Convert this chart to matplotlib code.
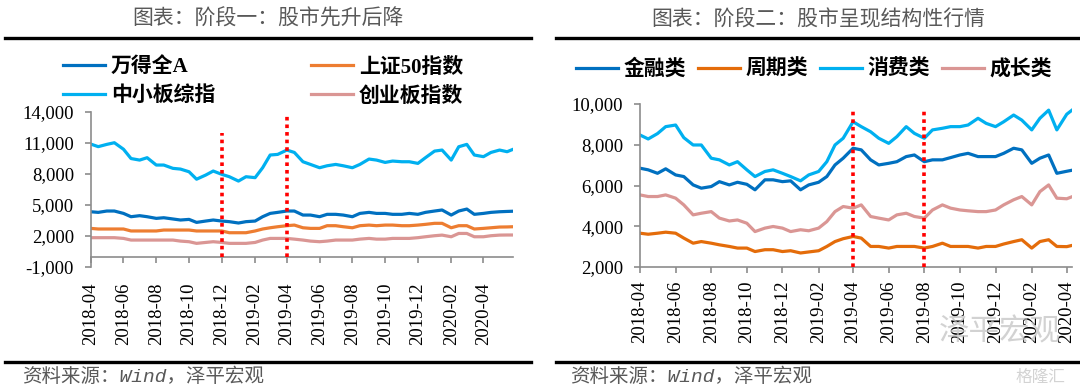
import numpy as np
import pandas as pd
import matplotlib
matplotlib.use("Agg")
import matplotlib.pyplot as plt
import matplotlib.dates as mdates
from matplotlib.lines import Line2D
from matplotlib.ticker import FuncFormatter

plt.rcParams['font.family'] = ['Liberation Serif', 'Noto Sans CJK SC']

# --- 左图：阶段一 ---
dates_left = list(pd.date_range('2018-04-01', '2020-05-15', freq='SMS')) + [pd.Timestamp('2020-05-26')]
zxb = [10900, 10650, 10870, 11030, 10400, 9500, 9350, 9580, 8870, 8870, 8550, 8480, 8220,
       7500, 7900, 8290, 7970, 7740, 7320, 7740, 7650, 8610, 9840, 9900, 10320,
       10090, 9190, 8930, 8610, 8800, 8930, 8800, 8610, 8930, 9450, 9350, 9125, 9255,
       9190, 9190, 9030, 9580, 10220, 10320, 9350, 10640, 10870, 9840, 9680, 10090, 10320, 10160, 10390]
wdqa = [4350, 4290, 4420, 4420, 4190, 3870, 3970, 3870, 3710, 3770, 3650, 3550, 3610,
        3320, 3450, 3550, 3450, 3390, 3260, 3390, 3450, 3870, 4190, 4290, 4420,
        4420, 4030, 4030, 3870, 4100, 4100, 4030, 3870, 4190, 4290, 4190, 4190, 4100,
        4100, 4190, 4100, 4290, 4420, 4520, 4030, 4420, 4610, 4100, 4190, 4290, 4350, 4380, 4400]
sz50 = [2740, 2680, 2680, 2680, 2680, 2490, 2490, 2490, 2490, 2580, 2580, 2580, 2580,
        2490, 2490, 2490, 2490, 2320, 2320, 2320, 2490, 2680, 2800, 2900, 3000,
        3060, 2800, 2740, 2740, 3000, 3000, 2900, 2800, 3000, 3060, 3000, 3060, 3060,
        3000, 3000, 3060, 3130, 3230, 3230, 2800, 3000, 3000, 2680, 2740, 2800, 2870, 2880, 2900]
cyb = [1840, 1840, 1840, 1840, 1770, 1610, 1610, 1610, 1610, 1610, 1610, 1510, 1450,
       1290, 1380, 1450, 1380, 1290, 1290, 1290, 1380, 1610, 1770, 1770, 1770,
       1700, 1610, 1510, 1450, 1510, 1610, 1610, 1610, 1700, 1770, 1700, 1700, 1770,
       1770, 1770, 1840, 1930, 2030, 2090, 1930, 2250, 2250, 1930, 1930, 2030, 2090, 2100, 2100]
events_left = [pd.Timestamp('2018-12-01'), pd.Timestamp('2019-04-01')]
events_left_top = [11950, 13900]

# --- 右图：阶段二 ---
dates_right = list(pd.date_range('2018-04-01', '2020-04-01', freq='SMS')) + [pd.Timestamp('2020-04-10')]
jr = [6850, 6770, 6600, 6820, 6520, 6440, 6030, 5870, 5950, 6190, 6030, 6160, 6060,
      5790, 6280, 6280, 6190, 6230, 5790, 6030, 6160, 6440, 7010, 7340, 7830,
      7750, 7260, 7010, 7090, 7170, 7420, 7500, 7170, 7260, 7260, 7370, 7500, 7580,
      7420, 7420, 7420, 7580, 7830, 7750, 7090, 7340, 7500, 6600, 6700, 6750]
zq = [3660, 3610, 3660, 3710, 3660, 3420, 3170, 3250, 3170, 3090, 3010, 2930, 2930,
      2760, 2850, 2850, 2760, 2800, 2690, 2740, 2800, 3010, 3250, 3390, 3500,
      3420, 3010, 3010, 2930, 3010, 3010, 3010, 2930, 3010, 3170, 3010, 3010, 3010,
      2930, 3010, 3010, 3130, 3250, 3340, 2930, 3250, 3340, 3010, 3000, 3060]
xf = [8480, 8285, 8550, 8890, 8970, 8350, 7990, 7990, 7340, 7260, 7010, 7170, 6770,
      6440, 6690, 6770, 6600, 6440, 6230, 6520, 6690, 7170, 7990, 8320, 9130,
      8890, 8640, 8320, 8070, 8400, 8890, 8560, 8320, 8730, 8810, 8890, 8890, 8970,
      9300, 9050, 8890, 9130, 9460, 9210, 8730, 9300, 9700, 8730, 9500, 9700]
cz = [5540, 5460, 5460, 5540, 5380, 5050, 4560, 4640, 4720, 4400, 4260, 4310, 4150,
      3740, 3910, 3990, 3910, 3740, 3830, 3780, 3910, 4230, 4720, 4970, 4890,
      5050, 4480, 4400, 4310, 4560, 4640, 4480, 4400, 4800, 5050, 4890, 4800, 4760,
      4720, 4720, 4800, 5050, 5300, 5460, 5050, 5700, 6030, 5380, 5350, 5450]
events_right = [pd.Timestamp('2019-04-01'), pd.Timestamp('2019-08-01')]
events_right_top = [9750, 9750]

c_dblue, c_lblue, c_pink = '#0070C0', '#00B0F0', '#DA9694'
c_orange_l, c_orange_r = '#ED7D31', '#E46C0A'
gray = '#595959'
axis_gray = '#8C8C8C'

fig = plt.figure(figsize=(10.8, 3.87), dpi=100)

def style_axes(ax, xpad):
    for s in ['top', 'right']:
        ax.spines[s].set_visible(False)
    for s in ['left', 'bottom']:
        ax.spines[s].set_color(axis_gray)
        ax.spines[s].set_linewidth(1.2)
    ax.tick_params(axis='y', direction='out', length=4, width=1.2, color=axis_gray,
                   labelsize=13.5, pad=8)
    ax.tick_params(axis='x', direction='out', length=4.5, width=1.2, color=axis_gray,
                   labelsize=13.5, pad=xpad, labelrotation=90)
    ax.xaxis.set_major_locator(mdates.MonthLocator(bymonth=[2, 4, 6, 8, 10, 12]))
    ax.xaxis.set_major_formatter(mdates.DateFormatter('%Y-%m'))
    ax.yaxis.set_major_formatter(FuncFormatter(lambda v, p: f'{v:,.0f}'))
    ax.patch.set_alpha(0)

lw = 2.3
dots = (0, (1, 1.1))

# 左图
ax1 = fig.add_axes([0.084, 0.310, 0.391, 0.4005])
ax1.plot(dates_left, wdqa, color=c_dblue, lw=lw, label='万得全A')
ax1.plot(dates_left, sz50, color=c_orange_l, lw=lw, label='上证50指数')
ax1.plot(dates_left, zxb, color=c_lblue, lw=lw, label='中小板综指')
ax1.plot(dates_left, cyb, color=c_pink, lw=lw, label='创业板指数')
ax1.vlines(events_left, 0, events_left_top, colors='red', linestyles=dots, lw=2.6, zorder=5)
ax1.set_ylim(-1000, 14000)
ax1.set_yticks([-1000, 2000, 5000, 8000, 11000, 14000])
ax1.set_xlim(pd.Timestamp('2018-04-01'), pd.Timestamp('2020-05-26'))
style_axes(ax1, 14)
ax1.spines['bottom'].set_position(('data', 0))

# 右图
ax2 = fig.add_axes([0.5926, 0.310, 0.400, 0.4212])
ax2.plot(dates_right, jr, color=c_dblue, lw=lw, label='金融类')
ax2.plot(dates_right, zq, color=c_orange_r, lw=lw, label='周期类')
ax2.plot(dates_right, xf, color=c_lblue, lw=lw, label='消费类')
ax2.plot(dates_right, cz, color=c_pink, lw=lw, label='成长类')
ax2.vlines(events_right, 2000, events_right_top, colors='red', linestyles=dots, lw=2.6, zorder=5)
ax2.set_ylim(2000, 10000)
ax2.set_yticks([2000, 4000, 6000, 8000, 10000])
ax2.set_xlim(pd.Timestamp('2018-04-01'), pd.Timestamp('2020-04-10'))
style_axes(ax2, 5)

# 标题与分隔线
title_font = dict(family=['Noto Sans CJK SC'], color=gray, fontsize=15, fontweight='light')
fig.text(268 / 1080, 1 - 19 / 387, '图表：阶段一：股市先升后降', ha='center', va='center', **title_font)
fig.text(818 / 1080, 1 - 19 / 387, '图表：阶段二：股市呈现结构性行情', ha='center', va='center', **title_font)
for x0, x1 in [(5, 531), (556, 1080)]:
    for y in [38, 362]:
        fig.add_artist(Line2D([x0 / 1080, x1 / 1080], [1 - y / 387, 1 - y / 387], color='black', lw=2.4))

# 图例
leg_font = dict(family=['Liberation Serif', 'Noto Sans CJK SC'], weight='bold', size=15)
h1, l1 = ax1.get_legend_handles_labels()
fig.legend([h1[i] for i in [0, 2, 1, 3]], [l1[i] for i in [0, 2, 1, 3]], ncol=2, frameon=False,
           prop=leg_font, loc='center left', bbox_to_anchor=(63 / 1080, 1 - 82 / 387),
           handlelength=2.0, handletextpad=0.3, columnspacing=4.6, labelspacing=0.42,
           borderaxespad=0, borderpad=0)
h2, l2 = ax2.get_legend_handles_labels()
fig.legend(h2, l2, ncol=4, frameon=False, prop=leg_font, loc='center left',
           bbox_to_anchor=(576 / 1080, 1 - 70 / 387), handlelength=2.0, handletextpad=0.3,
           columnspacing=0.55, borderaxespad=0, borderpad=0)

# 资料来源
src_font = dict(family=['Liberation Mono', 'Noto Sans CJK SC'], style='italic', color=gray, fontsize=14)
fig.text(22 / 1080, 1 - 377 / 387, '资料来源：Wind，泽平宏观', ha='left', va='center', **src_font)
fig.text(570 / 1080, 1 - 377 / 387, '资料来源：Wind，泽平宏观', ha='left', va='center', **src_font)

# 水印
fig.text(1000 / 1080, 1 - 332 / 387, '泽平宏观', ha='center', va='center', fontsize=22,
         family=['Noto Sans CJK SC'], color='#BFBFBF', alpha=0.7, fontweight='light')
fig.text(1040 / 1080, 1 - 377 / 387, '格隆汇', ha='center', va='center', fontsize=12,
         family=['Noto Sans CJK SC'], color='#C8C8C8', alpha=0.8)

fig.savefig('out.png', dpi=100)
